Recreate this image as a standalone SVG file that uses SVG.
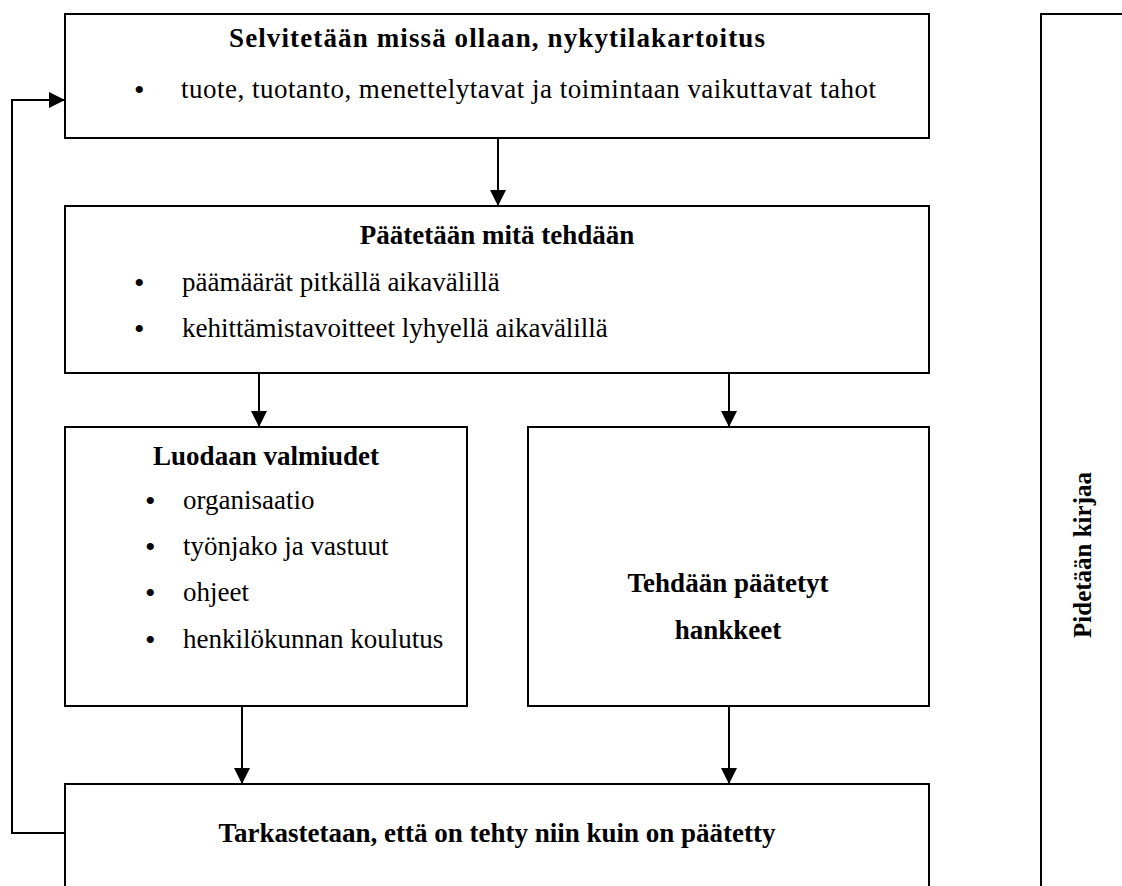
<svg xmlns="http://www.w3.org/2000/svg" width="1122" height="886" viewBox="0 0 1122 886">
  <defs>
    <marker id="arr" markerUnits="userSpaceOnUse" markerWidth="16" markerHeight="16" refX="16" refY="8" orient="auto" viewBox="0 0 16 16">
      <path d="M0,0 L16,8 L0,16 z" fill="#000"/>
    </marker>
    <style>
      .box { fill: #fff; stroke: #000; stroke-width: 2; }
      .conn { fill: none; stroke: #000; stroke-width: 2; marker-end: url(#arr); }
      text { font-family: "Liberation Serif", "Times New Roman", serif; font-size: 27px; fill: #000; }
      .t { font-weight: bold; text-anchor: middle; }
      .b { font-size: 30px; }
    </style>
  </defs>
  <rect width="1122" height="886" fill="#fff"/>

  <g id="node-nykytila">
    <rect class="box" x="65" y="14" width="864" height="124"/>
    <text class="t" x="497" y="47" textLength="536" lengthAdjust="spacing">Selvitetään missä ollaan, nykytilakartoitus</text>
    <text class="b" x="134" y="100">•</text>
    <text x="181" y="98" textLength="695" lengthAdjust="spacing">tuote, tuotanto, menettelytavat ja toimintaan vaikuttavat tahot</text>
  </g>

  <g id="node-paatetaan">
    <rect class="box" x="65" y="206" width="864" height="167"/>
    <text class="t" x="497" y="244">Päätetään mitä tehdään</text>
    <text class="b" x="134" y="293">•</text>
    <text x="182" y="291">päämäärät pitkällä aikavälillä</text>
    <text class="b" x="134" y="339">•</text>
    <text x="182" y="337">kehittämistavoitteet lyhyellä aikavälillä</text>
  </g>

  <g id="node-valmiudet">
    <rect class="box" x="65" y="427" width="402" height="279"/>
    <text class="t" x="266" y="465">Luodaan valmiudet</text>
    <text class="b" x="145" y="511">•</text>
    <text x="183" y="509">organisaatio</text>
    <text class="b" x="145" y="557">•</text>
    <text x="183" y="555">työnjako ja vastuut</text>
    <text class="b" x="145" y="603">•</text>
    <text x="183" y="601">ohjeet</text>
    <text class="b" x="145" y="650">•</text>
    <text x="183" y="648">henkilökunnan koulutus</text>
  </g>

  <g id="node-hankkeet">
    <rect class="box" x="528" y="427" width="401" height="279"/>
    <text class="t" x="728" y="592">Tehdään päätetyt</text>
    <text class="t" x="728" y="639">hankkeet</text>
  </g>

  <g id="node-tarkastetaan">
    <path class="box" d="M65,890 L65,784 L929,784 L929,890"/>
    <text class="t" x="497" y="842">Tarkastetaan, että on tehty niin kuin on päätetty</text>
  </g>

  <g id="node-kirjaa">
    <path class="box" d="M1041,890 L1041,14 L1126,14"/>
    <text class="t" transform="translate(1091,555) rotate(-90)" style="font-size:25px">Pidetään kirjaa</text>
  </g>

  <g id="connectors">
    <line class="conn" x1="498" y1="138" x2="498" y2="206"/>
    <line class="conn" x1="259" y1="373" x2="259" y2="427"/>
    <line class="conn" x1="729" y1="373" x2="729" y2="427"/>
    <line class="conn" x1="242" y1="706" x2="242" y2="784"/>
    <line class="conn" x1="729" y1="706" x2="729" y2="784"/>
    <polyline class="conn" points="65,833 12,833 12,100 65,100"/>
  </g>
</svg>
